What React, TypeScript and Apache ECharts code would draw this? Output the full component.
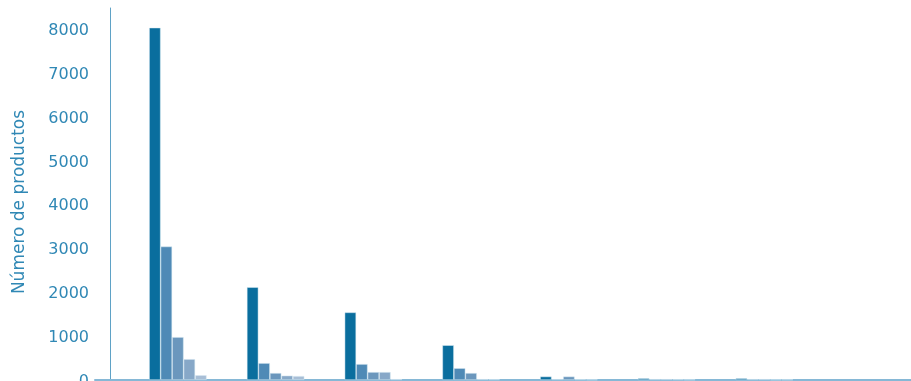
import React, { useEffect, useRef } from "react";
import * as echarts from "echarts";

const categories = ["A", "B", "C", "D", "E", "F", "G", "H"];
const seriesNames = ["Serie 1", "Serie 2", "Serie 3", "Serie 4", "Serie 5"];
const serie1 = [8050, 2120, 1545, 795, 80, 40, 40, null];
const serie2 = [3050, 386, 364, 270, 20, 20, 20, null];
const serie3 = [980, 160, 182, 160, 80, 20, 20, null];
const serie4 = [477, 100, 182, 20, 15, 15, 10, null];
const serie5 = [110, 90, 20, 15, 10, 10, 10, null];
const colors = ["#0a6e9e", "#4f8ab6", "#6b97bd", "#87a8c8", "#a8bed6"];
const yTitle = "Número de productos";

export default function App() {
  const ref = useRef<HTMLDivElement>(null);
  useEffect(() => {
    if (!ref.current) return;
    const chart = echarts.init(ref.current, undefined, { renderer: "svg" });
    const data = [serie1, serie2, serie3, serie4, serie5];
    const textColor = "#3088b5";
    const baseLine = { show: true, lineStyle: { color: "#86b8d6", width: 2 } };
    chart.setOption({
      animation: false,
      textStyle: { fontFamily: "DejaVu Sans" },
      grid: [
        { left: 129, top: 8, height: 372, right: 0, outerBoundsMode: "none", containLabel: false },
        { left: 95, top: 8, height: 372, right: 0, outerBoundsMode: "none", containLabel: false },
      ],
      xAxis: [
        {
          type: "category",
          data: categories,
          axisLine: baseLine,
          axisTick: { show: false },
          axisLabel: { show: false },
        },
        {
          type: "category",
          gridIndex: 1,
          data: [],
          axisLine: baseLine,
          axisTick: { show: false },
          axisLabel: { show: false },
        },
      ],
      yAxis: [
        {
          type: "value",
          min: 0,
          max: 8500,
          interval: 1000,
          offset: 19,
          name: yTitle,
          nameLocation: "middle",
          nameGap: 84,
          nameTextStyle: { color: textColor, fontSize: 17, fontFamily: "DejaVu Sans", padding: [0, 16, 0, 0] },
          axisLine: { show: true, lineStyle: { color: "#5fa2c6", width: 1 } },
          axisTick: { show: false },
          splitLine: { show: false },
          axisLabel: {
            color: textColor,
            fontSize: 16,
            margin: 21,
            fontFamily: "DejaVu Sans",
            showMaxLabel: false,
            formatter: (v: number) => String(v),
          },
        },
        { type: "value", gridIndex: 1, show: false, min: 0, max: 8500 },
      ],
      series: data.map((d, i) => ({
        name: seriesNames[i],
        type: "bar",
        data: d,
        barWidth: 11.5,
        barGap: "0%",
        itemStyle: { color: colors[i], borderColor: "rgba(220,235,245,0.8)", borderWidth: 0.6 },
      })),
    });
    return () => chart.dispose();
  }, []);
  return (
    <div
      ref={ref}
      style={{ position: "fixed", left: 0, top: 0, width: 911, height: 381 }}
    />
  );
}
